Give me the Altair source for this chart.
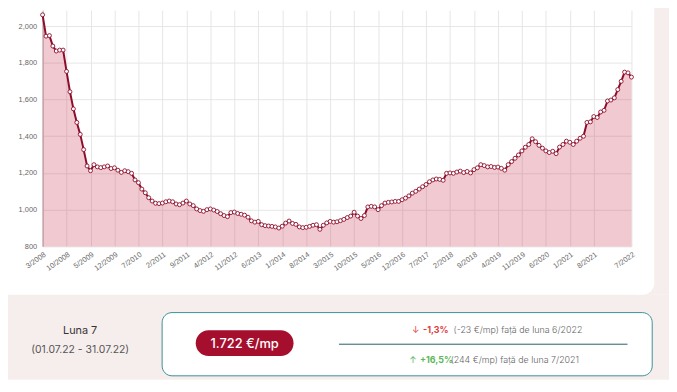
import altair as alt
import pandas as pd

# ---- data ----
START_YEAR, START_MONTH = 2008, 3
prices = [
    2061, 1945, 1948, 1891, 1864, 1869, 1869, 1753, 1642, 1549, 1475, 1410, 1327, 1238, 1212, 1245,
    1233, 1229, 1233, 1238, 1224, 1228, 1215, 1203, 1212, 1207, 1198, 1162, 1147, 1112, 1092, 1065,
    1047, 1035, 1033, 1036, 1043, 1047, 1043, 1031, 1027, 1036, 1047, 1031, 1022, 1004, 995, 991,
    1000, 1004, 998, 990, 978, 968, 962, 984, 987, 979, 975, 970, 959, 939, 932, 936,
    918, 913, 911, 909, 906, 900, 910, 927, 938, 925, 920, 906, 902, 904, 909, 915,
    918, 893, 915, 928, 936, 932, 934, 940, 947, 957, 965, 986, 965, 952, 968, 1015,
    1018, 1015, 1000, 1022, 1036, 1040, 1042, 1045, 1045, 1054, 1063, 1075, 1090, 1100, 1112, 1125,
    1137, 1152, 1162, 1167, 1165, 1160, 1198, 1200, 1198, 1205, 1210, 1202, 1208, 1200, 1218, 1228,
    1245, 1240, 1233, 1235, 1230, 1232, 1225, 1215, 1245, 1262, 1280, 1298, 1320, 1340, 1355, 1386,
    1370, 1350, 1335, 1320, 1311, 1318, 1305, 1341, 1355, 1373, 1367, 1355, 1373, 1389, 1400, 1475,
    1478, 1507, 1502, 1532, 1541, 1592, 1597, 1609, 1654, 1699, 1749, 1745, 1722,
]
months = []
for k in range(len(prices)):
    m = (START_MONTH - 1 + k) % 12 + 1
    y = START_YEAR + (START_MONTH - 1 + k) // 12
    months.append(f"{m}/{y}")

x_ticks = ["3/2008", "10/2008", "5/2009", "12/2009", "7/2010", "2/2011", "9/2011", "4/2012",
           "11/2012", "6/2013", "1/2014", "8/2014", "3/2015", "10/2015", "5/2016", "12/2016",
           "7/2017", "2/2018", "9/2018", "4/2019", "11/2019", "6/2020", "1/2021", "8/2021", "7/2022"]
y_ticks = [800, 1000, 1200, 1400, 1600, 1800, 2000]

period_label = "Luna 7"
period_range = "(01.07.22 - 31.07.22)"
current_price = "1.722 €/mp"
mom_arrow, mom_pct, mom_rest = "↓", "-1,3%", "(-23 €/mp) față de luna 6/2022"
yoy_arrow, yoy_pct, yoy_rest = "↑", "+16,5%", "(244 €/mp) față de luna 7/2021"

df = pd.DataFrame({"month": months, "price": prices})

# ---- layout helpers (page px -> plot px) ----
X0, Y0 = 43, 8
W, H = 596, 239
def px(v): return v - X0
def py(v): return v - Y0

LINE = "#8c0c2a"
FONT = "Inter"

one = pd.DataFrame({"a": [0]})

def rect(x1, x2, y1, y2, **kw):
    return alt.Chart(one).mark_rect(**kw).encode(
        x=alt.value(px(x1)), x2=alt.value(px(x2)), y=alt.value(py(y1)), y2=alt.value(py(y2)))

def text(s, x, y, **kw):
    return alt.Chart(pd.DataFrame({"t": [s]})).mark_text(baseline="middle", font=FONT, **kw).encode(
        text="t:N", x=alt.value(px(x)), y=alt.value(py(y)))

xenc = alt.X("month:O", sort=months,
             scale=alt.Scale(type="point", padding=0),
             axis=alt.Axis(values=x_ticks, title=None, labelAngle=-35, labelFontSize=7.5,
                           labelColor="#666", labelFont="Liberation Sans", grid=True,
                           gridColor="#e6e6e6", ticks=False, domain=False, labelPadding=4))
yenc = alt.Y("price:Q", scale=alt.Scale(domain=[800, 2086], nice=False, zero=False),
             axis=alt.Axis(values=y_ticks, format=",d", title=None, labelFontSize=7.5,
                           labelColor="#666", labelFont="Liberation Sans", grid=True,
                           gridColor="#e6e6e6", ticks=False, domainColor="#b0b0b0",
                           labelPadding=6))

base = alt.Chart(df)
area = base.mark_area(color="#c8304a", opacity=0.26).encode(x=xenc, y=yenc, y2=alt.datum(800))
line = base.mark_line(color=LINE, strokeWidth=2).encode(x=xenc, y=yenc)
pts = base.mark_point(filled=True, fill="white", stroke=LINE, strokeWidth=0.9, size=16,
                      opacity=1).encode(x=xenc, y=yenc)

bg = [
    rect(0, 677, 296, 382, color="#f6eeec"),
    rect(662, 677, 0, 296, color="#f6eeec"),
    rect(648, 662, 282, 296, color="#f6eeec"),
    rect(636, 662, 266, 296, color="white", cornerRadius=12),
]

panel = [
    text(period_label, 81, 333, fontSize=11, color="#333", align="center"),
    text(period_range, 81, 352, fontSize=10.5, color="#555", align="center"),
    rect(164, 660, 314, 378, fill="white", stroke="#3b8f96", strokeWidth=1, cornerRadius=10),
    rect(198, 297, 332, 358, color="#a50f2d", cornerRadius=13),
    text(current_price, 247.5, 345.5, fontSize=13, color="white", align="center", fontWeight=500),
    alt.Chart(one).mark_rule(color="#245f66", strokeWidth=1).encode(
        x=alt.value(px(343)), x2=alt.value(px(635)), y=alt.value(py(346))),
    text(mom_arrow, 417, 332, fontSize=9, color="#e03a3a", align="left"),
    text(mom_pct, 428, 332, fontSize=9, color="#e03a3a", align="left", fontWeight="bold"),
    text(mom_rest, 459, 332, fontSize=9, color="#666", align="left", fontWeight=300),
    text(yoy_arrow, 414, 362, fontSize=9, color="#5cb85c", align="left"),
    text(yoy_pct, 425, 362, fontSize=9, color="#5cb85c", align="left", fontWeight="bold"),
    text(yoy_rest, 456, 362, fontSize=9, color="#666", align="left", fontWeight=300),
]

chart = alt.layer(*bg, area, line, pts, *panel).properties(
    width=W, height=H,
    autosize=alt.AutoSizeParams(type="none"),
    padding={"left": 35, "top": 0, "right": 669 - 35 - W, "bottom": 376 - H},
).configure_view(stroke=None)

chart.save("out.html", embed_options={"renderer": "svg", "actions": False})
